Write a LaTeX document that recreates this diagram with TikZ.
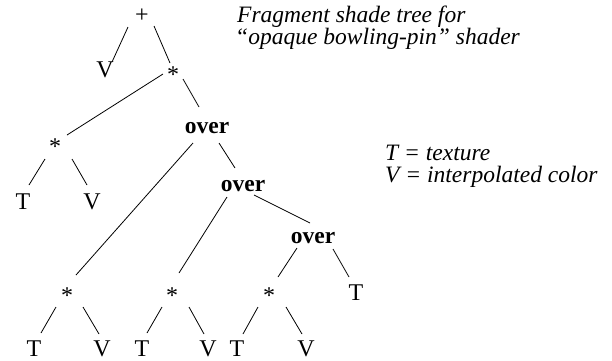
\documentclass[tikz,border=0pt]{standalone}
\usepackage{fontspec}
\setmainfont{Liberation Serif}
\usetikzlibrary{calc}
\tikzset{
  tn/.style={anchor=base, inner sep=0pt, font=\fontsize{24}{24}\selectfont},
  opn/.style={tn, font=\fontsize{23.5}{24}\selectfont\bfseries},
  note/.style={anchor=base west, inner sep=0pt, font=\fontsize{23.5}{22}\selectfont\itshape},
  edge/.style={line width=0.8pt}
}
\newcommand\conn[4]{\draw[edge] ($(#1.base)+(#2)$) -- ($(#3.base)+(#4)$);}
\begin{document}
\begin{tikzpicture}[x=1pt,y=-1pt]
\useasboundingbox (0,0) rectangle (612,360);
% nodes
\node[tn] (plus) at (142,22) {+};
\node[tn] (v0) at (105,77) {V};
\node[tn] (s1) at (173,82) {*};
\node[tn] (sL) at (55,154) {*};
\node[opn] (o1) at (207,133) {over};
\node[tn] (t1) at (23,209) {T};
\node[tn] (v1) at (92,209) {V};
\node[opn] (o2) at (243,191) {over};
\node[opn] (o3) at (313,243) {over};
\node[tn] (t4) at (356,300) {T};
\node[tn] (b1) at (67,303) {*};
\node[tn] (b2) at (172,303) {*};
\node[tn] (b3) at (269,303) {*};
\node[tn] (tb1) at (34,356) {T};
\node[tn] (vb1) at (102,356) {V};
\node[tn] (tb2) at (142,356) {T};
\node[tn] (vb2) at (208,356) {V};
\node[tn] (tb3) at (237,356) {T};
\node[tn] (vb3) at (306,356) {V};
% notes
\node[note] (title1) at (237,22) {Fragment shade tree for};
\node[note] (title2) at (235,44) {“opaque bowling-pin” shader};
\node[note] (leg1) at (385,160) {T = texture};
\node[note] (leg2) at (385,182) {V = interpolated color};
% connectors
\conn{plus}{-14,5}{v0}{7,-15}
\conn{plus}{12,4}{s1}{-3,-19}
\conn{s1}{-10,-8}{sL}{12,-19}
\conn{s1}{10,-3}{o1}{-8,-26}
\conn{sL}{-10,5}{t1}{6,-24}
\conn{sL}{17,5}{v1}{-5,-24}
\conn{o1}{-14,10}{b1}{9,-28}
\conn{o1}{12,10}{o2}{-8,-23}
\conn{o2}{-16,6}{b2}{7,-30}
\conn{o2}{11,4}{o3}{-3,-20}
\conn{o3}{-16,5}{b3}{9,-26}
\conn{o3}{20,6}{t4}{-7,-23}
\conn{b1}{-11,4}{tb1}{7,-23}
\conn{b1}{16,4}{vb1}{-3,-22}
\conn{b2}{-10,4}{tb2}{5,-23}
\conn{b2}{17,4}{vb2}{-4,-22}
\conn{b3}{-11,4}{tb3}{6,-22}
\conn{b3}{17,4}{vb3}{-4,-22}
\end{tikzpicture}
\end{document}
